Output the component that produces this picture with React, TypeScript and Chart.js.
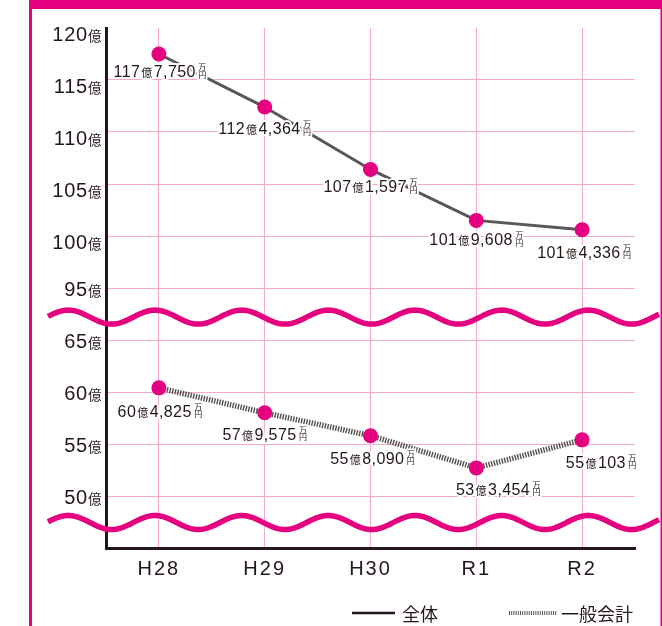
import React, { useEffect, useRef } from "react";
import { Chart, registerables } from "chart.js";

Chart.register(...registerables);

// ---------- data ----------
const CATEGORIES = ["H28", "H29", "H30", "R1", "R2"];
const SERIES_NAMES = ["全体", "一般会計"];
const TOTAL_VALUES = [117.5, 112.4, 106.4, 101.5, 100.6];
const GENERAL_VALUES = [60.4, 58.0, 55.8, 52.7, 55.4];
const TOTAL_OKU = ["117", "112", "107", "101", "101"];
const TOTAL_MAN = ["7,750", "4,364", "1,597", "9,608", "4,336"];
const GENERAL_OKU = ["60", "57", "55", "53", "55"];
const GENERAL_MAN = ["4,825", "9,575", "8,090", "3,454", "103"];
const Y_TICKS = [50, 55, 60, 65, 95, 100, 105, 110, 115, 120];
const OKU = "億";
const MAN = "万";
const EN = "円";

// ---------- broken axis mapping ----------
const BREAK_LOW = 65;
const BREAK_HIGH = 95;
const STEP = 5;
const SHIFT = BREAK_HIGH - BREAK_LOW - STEP; // 25
const toAxis = (v: number) => (v >= BREAK_HIGH ? v - SHIFT : v);
const fromAxis = (a: number) => (a >= BREAK_HIGH - SHIFT ? a + SHIFT : a);
const AXIS_MIN = Y_TICKS[0] - STEP;
const AXIS_MAX = toAxis(Y_TICKS[Y_TICKS.length - 1]);

// ---------- styles ----------
const PINK = "#E4007F";
const GRID = "#F6A9CD";
const AXIS = "#231815";
const TEXT = "#231815";
const LINE_GRAY = "#595757";
const LATIN = '"Liberation Sans", Arial, sans-serif';
const CJK = '"Noto Sans CJK JP", sans-serif';

const TOTAL_LABEL_DX = [1, 0, 0, 0, 2];
const TOTAL_LABEL_DY = [23, 27, 23, 25, 28];
const GENERAL_LABEL_DX = [1, 0, 2, 22, 19];
const GENERAL_LABEL_DY = [29, 27, 28, 27, 28];

function drawValueLabel(ctx: CanvasRenderingContext2D, cx: number, baseline: number, oku: string, man: string) {
  const bigFont = `16px ${LATIN}`;
  const bigLs = "0.4px";
  const okuFont = `11px ${CJK}`;
  const unitFont = `8px ${CJK}`;
  ctx.save();
  (ctx as any).letterSpacing = bigLs;
  ctx.font = bigFont;
  const w1 = ctx.measureText(oku).width;
  const w3 = ctx.measureText(man).width;
  (ctx as any).letterSpacing = "0px";
  ctx.font = okuFont;
  const w2 = ctx.measureText(OKU).width;
  ctx.font = unitFont;
  const w4 = ctx.measureText(MAN).width;
  const g1 = 1, g2 = 1.5, g3 = 2.5;
  const total = w1 + g1 + w2 + g2 + w3 + g3 + w4;
  const x0 = cx - total / 2;
  const xu = x0 + w1 + g1 + w2 + g2 + w3 + g3;
  const parts = [
    { t: oku, f: bigFont, ls: bigLs, x: x0, y: baseline },
    { t: OKU, f: okuFont, ls: "0px", x: x0 + w1 + g1, y: baseline },
    { t: man, f: bigFont, ls: bigLs, x: x0 + w1 + g1 + w2 + g2, y: baseline },
    { t: MAN, f: unitFont, ls: "0px", x: xu, y: baseline - 7 },
    { t: EN, f: unitFont, ls: "0px", x: xu, y: baseline + 0.5 },
  ];
  ctx.textAlign = "left";
  ctx.textBaseline = "alphabetic";
  ctx.strokeStyle = "#ffffff";
  ctx.lineWidth = 4;
  ctx.lineJoin = "round";
  for (const p of parts) {
    ctx.font = p.f;
    (ctx as any).letterSpacing = p.ls;
    ctx.strokeText(p.t, p.x, p.y);
  }
  ctx.fillStyle = TEXT;
  for (const p of parts) {
    ctx.font = p.f;
    (ctx as any).letterSpacing = p.ls;
    ctx.fillText(p.t, p.x, p.y);
  }
  ctx.restore();
}

function drawWave(ctx: CanvasRenderingContext2D, cy: number) {
  const x1 = 48, x2 = 659, amp = 7, period = 86.67, trough = 111.6;
  ctx.save();
  ctx.beginPath();
  for (let x = x1; x <= x2; x += 1) {
    const y = cy + amp * Math.cos((2 * Math.PI * (x - trough)) / period);
    if (x === x1) ctx.moveTo(x, y);
    else ctx.lineTo(x, y);
  }
  ctx.strokeStyle = PINK;
  ctx.lineWidth = 5.5;
  ctx.lineCap = "butt";
  ctx.lineJoin = "round";
  ctx.stroke();
  ctx.restore();
}

const decorPlugin = {
  id: "decor",
  beforeDraw(chart: any) {
    const ctx = chart.ctx as CanvasRenderingContext2D;
    ctx.save();
    ctx.fillStyle = "#ffffff";
    ctx.fillRect(0, 0, chart.width, chart.height);
    ctx.fillStyle = PINK;
    ctx.fillRect(29, 0, chart.width - 29, 9);
    ctx.fillRect(29, 0, 3, chart.height);
    ctx.fillRect(660.5, 0, 1.5, chart.height);
    ctx.restore();
    (ctx as any).letterSpacing = "2px";
  },
  afterDatasetsDraw(chart: any) {
    const ctx = chart.ctx as CanvasRenderingContext2D;
    (ctx as any).letterSpacing = "0px";
    const m0 = chart.getDatasetMeta(0);
    const m1 = chart.getDatasetMeta(1);
    m0.data.forEach((pt: any, i: number) => {
      drawValueLabel(ctx, pt.x + TOTAL_LABEL_DX[i], pt.y + TOTAL_LABEL_DY[i], TOTAL_OKU[i], TOTAL_MAN[i]);
    });
    m1.data.forEach((pt: any, i: number) => {
      drawValueLabel(ctx, pt.x + GENERAL_LABEL_DX[i], pt.y + GENERAL_LABEL_DY[i], GENERAL_OKU[i], GENERAL_MAN[i]);
    });
  },
  afterDraw(chart: any) {
    const ctx = chart.ctx as CanvasRenderingContext2D;
    (ctx as any).letterSpacing = "0px";
    const yScale = chart.scales.y;

    // axis break waves
    drawWave(ctx, yScale.getPixelForValue(67.2));
    drawWave(ctx, yScale.getPixelForValue(47.45));

    // y tick labels
    ctx.save();
    ctx.fillStyle = TEXT;
    ctx.textBaseline = "alphabetic";
    for (const v of Y_TICKS) {
      const y = yScale.getPixelForValue(toAxis(v));
      const base = y + (v >= 100 ? 12.5 : 8);
      ctx.font = `13.5px ${CJK}`;
      (ctx as any).letterSpacing = "0px";
      ctx.textAlign = "left";
      ctx.fillText(OKU, 88, base);
      ctx.font = `20px ${LATIN}`;
      (ctx as any).letterSpacing = "0.8px";
      ctx.textAlign = "right";
      ctx.fillText(String(v), 88, base);
    }
    (ctx as any).letterSpacing = "0px";

    // legend
    const ly = 613;
    ctx.strokeStyle = AXIS;
    ctx.lineWidth = 2.5;
    ctx.beginPath();
    ctx.moveTo(352, ly);
    ctx.lineTo(395, ly);
    ctx.stroke();
    ctx.strokeStyle = LINE_GRAY;
    ctx.lineWidth = 4;
    ctx.setLineDash([1, 1.2]);
    ctx.beginPath();
    ctx.moveTo(509, ly);
    ctx.lineTo(557, ly);
    ctx.stroke();
    ctx.setLineDash([]);
    ctx.font = `18px ${CJK}`;
    ctx.textAlign = "left";
    ctx.textBaseline = "middle";
    ctx.fillStyle = TEXT;
    ctx.fillText(SERIES_NAMES[0], 402, ly + 1);
    ctx.fillText(SERIES_NAMES[1], 561, ly + 1);
    ctx.restore();
  },
};

export default function App() {
  const ref = useRef<HTMLCanvasElement | null>(null);

  useEffect(() => {
    if (!ref.current) return;
    const chart = new Chart(ref.current, {
      type: "line",
      data: {
        labels: CATEGORIES,
        datasets: [
          {
            label: SERIES_NAMES[0],
            data: TOTAL_VALUES.map(toAxis),
            borderColor: LINE_GRAY,
            borderWidth: 3,
            pointRadius: 7.5,
            pointHoverRadius: 7.5,
            pointBackgroundColor: PINK,
            pointBorderWidth: 0,
            tension: 0,
          },
          {
            label: SERIES_NAMES[1],
            data: GENERAL_VALUES.map(toAxis),
            borderColor: "#4f4f4f",
            borderWidth: 5.5,
            borderDash: [1.4, 1.3],
            pointRadius: 7.5,
            pointHoverRadius: 7.5,
            pointBackgroundColor: PINK,
            pointBorderWidth: 0,
            tension: 0,
          },
        ],
      },
      options: {
        animation: false,
        responsive: false,
        devicePixelRatio: 1,
        layout: { padding: { left: 106, top: 28, right: 27, bottom: 36 } },
        plugins: {
          legend: { display: false },
          tooltip: { enabled: false },
        },
        scales: {
          x: {
            offset: true,
            grid: { color: GRID, lineWidth: 1, drawTicks: false, offset: false },
            border: { color: AXIS, width: 3 },
            ticks: { color: TEXT, font: { family: LATIN, size: 20 }, padding: 9 },
          },
          y: {
            min: AXIS_MIN,
            max: AXIS_MAX,
            ticks: { stepSize: STEP, display: false },
            grid: {
              drawTicks: false,
              lineWidth: 1,
              color: (c: any) => {
                if (!c.tick) return "rgba(0,0,0,0)";
                const v = fromAxis(c.tick.value);
                return Y_TICKS.includes(v) && v !== Y_TICKS[Y_TICKS.length - 1] ? GRID : "rgba(0,0,0,0)";
              },
            },
            border: { color: AXIS, width: 3 },
          },
        },
      },
      plugins: [decorPlugin],
    });
    return () => chart.destroy();
  }, []);

  return (
    <div style={{ position: "absolute", left: 0, top: 0, width: 662, height: 626 }}>
      <canvas ref={ref} width={662} height={626} style={{ display: "block", width: 662, height: 626 }} />
    </div>
  );
}
